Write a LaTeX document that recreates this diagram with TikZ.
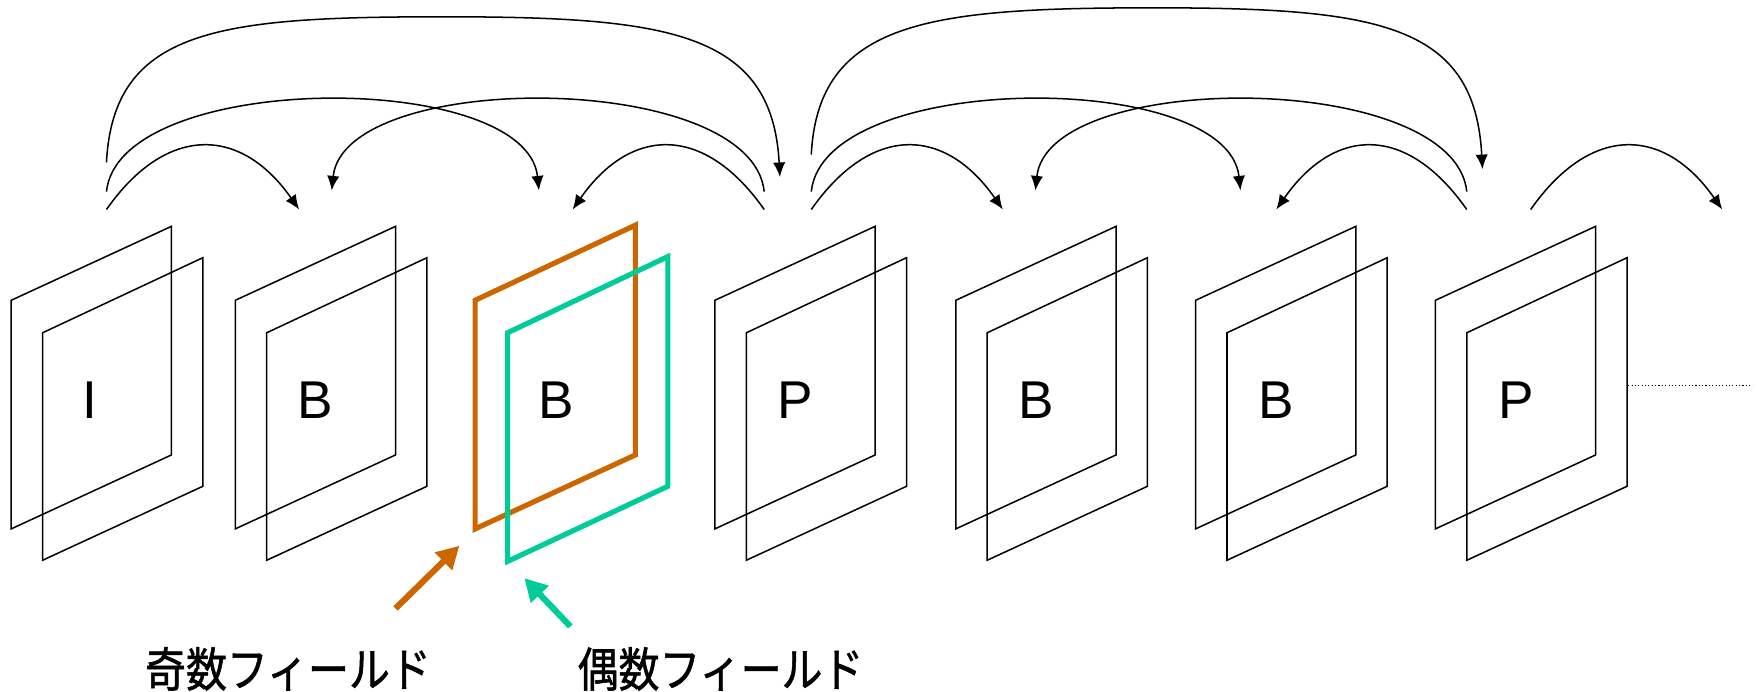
\documentclass[tikz,border=0pt]{standalone}
\usepackage{fontspec}
\usepackage{graphicx}
\setmainfont{Liberation Sans}
\newfontfamily\jpfont{Noto Sans CJK JP}[FakeBold=1.2]
\usetikzlibrary{arrows.meta}
\definecolor{oddc}{RGB}{204,102,0}
\definecolor{evenc}{RGB}{0,204,153}
\begin{document}
\begin{tikzpicture}[x=1pt,y=1pt,
  frm/.style={line width=1.35pt, line join=miter},
  oddfrm/.style={line width=4.6pt, line join=miter, draw=oddc},
  evenfrm/.style={line width=4.6pt, line join=miter, draw=evenc},
  lbl/.style={inner sep=0pt, font=\fontsize{47.5}{50}\selectfont},
  jp/.style={inner sep=0pt, font=\jpfont\fontsize{42}{46}\selectfont},
  arcline/.style={line width=1.35pt, -{Latex[length=13pt,width=11pt]}},
  fieldarrow/.style={line width=5.5pt, -{Triangle[length=20pt,width=21pt]}},
  small/.style={distance=92pt},
  mid/.style={distance=109pt}]
\useasboundingbox (0,0) rectangle (1568,617);

% frames
\foreach \L in {10,210,638,853,1067,1281} {
  \draw[frm] (\L,145) -- (\L,349) -- ({\L+143},415) -- ({\L+143},211) -- cycle;
  \draw[frm] ({\L+28},117) -- ({\L+28},320) -- ({\L+171},387) -- ({\L+171},183) -- cycle;
}
\draw[oddfrm] (424,145) -- (424,349) -- (567,416) -- (567,211) -- cycle;
\draw[evenfrm] (453,116) -- (453,320) -- (596,388) -- (596,183) -- cycle;

% frame labels
\node[lbl] (l1) at (80,260) {I};
\node[lbl] (l2) at (281.5,260) {B};
\node[lbl] (l3) at (496,260) {B};
\node[lbl] (l4) at (710,260) {P};
\node[lbl] (l5) at (925,260) {B};
\node[lbl] (l6) at (1139,260) {B};
\node[lbl] (l7) at (1353,260) {P};

% arc end points
\coordinate (s1a) at (95,430);   \coordinate (e1a) at (267,430);
\coordinate (s1b) at (95,446);   \coordinate (e1b) at (481,447);
\coordinate (s1c) at (95,472);   \coordinate (p1c) at (396,602); \coordinate (e1c) at (696,459);
\coordinate (s4a) at (682,430);  \coordinate (e4a) at (511,430);
\coordinate (s4b) at (682,446);  \coordinate (e4b) at (296,447);
\coordinate (s4c) at (724,430);  \coordinate (e4c) at (895,430);
\coordinate (s4d) at (724,446);  \coordinate (e4d) at (1107,447);
\coordinate (s4e) at (724,479);  \coordinate (p4e) at (1030,610); \coordinate (e4e) at (1323,466);
\coordinate (s7a) at (1309,430); \coordinate (e7a) at (1139,430);
\coordinate (s7b) at (1309,446); \coordinate (e7b) at (924,447);
\coordinate (s7c) at (1366,430); \coordinate (e7c) at (1537,430);

% small arcs
\draw[arcline] (s1a) to[out=55,in=125,small] (e1a);
\draw[arcline] (s4a) to[out=125,in=55,small] (e4a);
\draw[arcline] (s4c) to[out=55,in=125,small] (e4c);
\draw[arcline] (s7a) to[out=125,in=55,small] (e7a);
\draw[arcline] (s7c) to[out=55,in=125,small] (e7c);

% middle arcs
\draw[arcline] (s1b) to[out=84,in=96,mid] (e1b);
\draw[arcline] (s4b) to[out=96,in=84,mid] (e4b);
\draw[arcline] (s4d) to[out=84,in=96,mid] (e4d);
\draw[arcline] (s7b) to[out=96,in=84,mid] (e7b);

% top arcs
\draw[arcline] (s1c) to[out=87,in=180,out distance=120pt,in distance=200pt] (p1c)
               to[out=0,in=93,out distance=200pt,in distance=130pt] (e1c);
\draw[arcline] (s4e) to[out=87,in=180,out distance=120pt,in distance=200pt] (p4e)
               to[out=0,in=93,out distance=200pt,in distance=130pt] (e4e);

% continuation
\coordinate (d0) at (1453,273); \coordinate (d1) at (1564,273);
\draw[line width=1pt, dotted] (d0) -- (d1);

% field arrows
\coordinate (oa) at (353,74);  \coordinate (ot) at (410,130);
\coordinate (ga) at (509,58);  \coordinate (gt) at (468,101);
\draw[fieldarrow, draw=oddc, fill=oddc] (oa) -- (ot);
\draw[fieldarrow, draw=evenc, fill=evenc] (ga) -- (gt);

% field labels
\node[jp] (odd) at (257,20) {\scalebox{0.87}[1]{奇数フィールド}};
\node[jp] (even) at (643,20) {\scalebox{0.87}[1]{偶数フィールド}};
\end{tikzpicture}
\end{document}
